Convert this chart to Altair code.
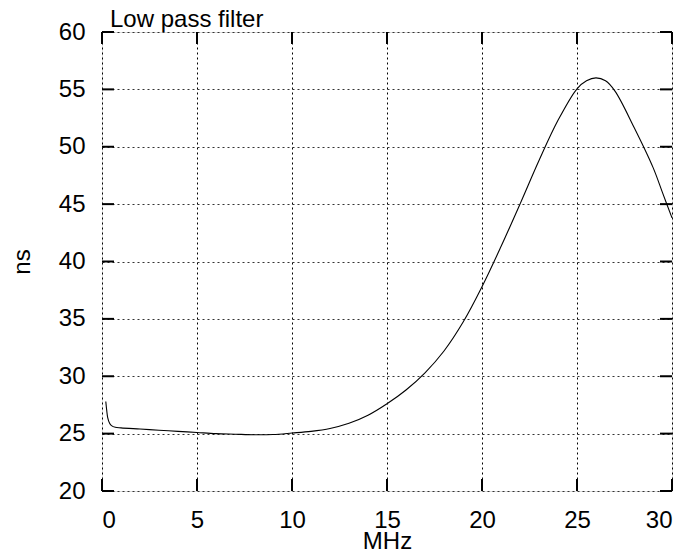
import altair as alt
import pandas as pd

# curve data
freq_mhz = [0.2, 0.25, 0.3, 0.4, 0.5, 0.7, 1, 2, 3, 4, 5, 6, 7, 8, 9, 10, 11, 12, 13, 14,
            15, 16, 17, 18, 19, 20, 21, 22, 23, 24, 25, 25.5, 26, 26.5, 27, 28, 29, 29.5, 30]
delay_ns = [27.8, 27.0, 26.4, 25.9, 25.7, 25.55, 25.5, 25.4, 25.3, 25.2, 25.1, 25.0, 24.95, 24.9, 24.92,
            25.05, 25.2, 25.45, 25.9, 26.6, 27.6, 28.8, 30.3, 32.2, 34.7, 37.8, 41.3, 45.0, 48.8, 52.3,
            55.05, 55.75, 56.0, 55.75, 54.85, 51.7, 48.2, 46.0, 43.8]

x_ticks = [0, 5, 10, 15, 20, 25, 30]
y_ticks = [20, 25, 30, 35, 40, 45, 50, 55, 60]
title_text = ["Low pass filter"]

W, H = 570, 459
TICK = 12
FONT = "Liberation Sans"
FS = 24

df = pd.DataFrame({"MHz": freq_mhz, "ns": delay_ns})
dfx = pd.DataFrame({"t": x_ticks})
dfy = pd.DataFrame({"t": y_ticks})
dft = pd.DataFrame({"label": title_text})

xscale = alt.Scale(domain=[0, 30], nice=False, zero=False)
yscale = alt.Scale(domain=[20, 60], nice=False, zero=False)

xaxis = alt.Axis(values=x_ticks, grid=True, gridDash=[2, 3], gridColor="black", gridOpacity=1,
                 gridWidth=1, domain=False, tickSize=0, labelFont=FONT, labelFontSize=FS,
                 labelColor="black", labelPadding=17, title="MHz", titleFont=FONT,
                 titleFontSize=FS, titleFontWeight="normal", titleColor="black",
                 titleBaseline="alphabetic", titleY=57)
yaxis = alt.Axis(values=y_ticks, grid=True, gridDash=[2, 3], gridColor="#333333", gridOpacity=1,
                 gridWidth=1, domain=False, tickSize=0, labelFont=FONT, labelFontSize=FS,
                 labelColor="black", labelPadding=17, title="ns", titleFont=FONT,
                 titleFontSize=FS, titleFontWeight="normal", titleColor="black",
                 titleBaseline="alphabetic", titleX=-73, titleY=H / 2)

line = alt.Chart(df).mark_line(color="black", strokeWidth=1.1, interpolate="catmull-rom").encode(
    x=alt.X("MHz:Q", scale=xscale, axis=xaxis),
    y=alt.Y("ns:Q", scale=yscale, axis=yaxis),
)

tick_style = dict(color="black", strokeWidth=2)
xt_bottom = alt.Chart(dfx).mark_rule(**tick_style).encode(
    x=alt.X("t:Q", scale=xscale), y=alt.value(H), y2=alt.value(H - TICK))
xt_top = alt.Chart(dfx).mark_rule(**tick_style).encode(
    x=alt.X("t:Q", scale=xscale), y=alt.value(0), y2=alt.value(TICK))
yt_left = alt.Chart(dfy).mark_rule(**tick_style).encode(
    y=alt.Y("t:Q", scale=yscale), x=alt.value(0), x2=alt.value(TICK))
yt_right = alt.Chart(dfy).mark_rule(**tick_style).encode(
    y=alt.Y("t:Q", scale=yscale), x=alt.value(W), x2=alt.value(W - TICK))

title = alt.Chart(dft).mark_text(align="left", baseline="alphabetic", font=FONT, fontSize=FS,
                                 color="black").encode(
    text="label:N", x=alt.value(8), y=alt.value(-5))

chart = alt.layer(line, xt_bottom, xt_top, yt_left, yt_right, title).properties(
    width=W, height=H,
    autosize=alt.AutoSizeParams(type="none"),
    padding={"left": 94, "top": 24, "right": 8, "bottom": 58},
).configure_view(stroke="black", strokeWidth=2.5, clip=False).configure(background="white")

chart.save("out.html", embed_options={"renderer": "svg", "actions": False})
